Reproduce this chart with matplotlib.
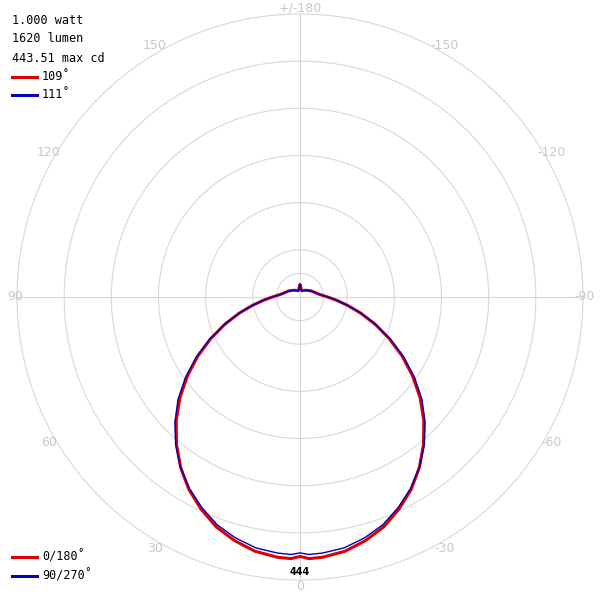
import numpy as np
import matplotlib
matplotlib.use('Agg')
from matplotlib import pyplot as plt

# intensity (cd) vs angle from nadir
angles = [0, 2, 5, 10, 15, 20, 25, 30, 35, 40, 45, 50, 55, 60, 65, 70, 75, 80, 85, 90,
          95, 100, 110, 120, 135, 150, 165, 170, 175, 178, 180]
red_cd = [440, 444, 443, 438, 428, 415, 397, 377, 353, 326, 297, 266, 233, 200, 167, 136,
          107, 82, 62, 47, 37, 31, 25, 21, 16, 13, 11, 12, 16, 19, 20]
blue_cd = [434, 437, 436, 432, 423, 411, 394, 375, 353, 328, 300, 270, 237, 203, 169, 137,
           108, 82, 62, 47, 37, 31, 25, 21, 16, 13, 11, 12, 16, 19, 20]
rings = [40, 80, 160, 240, 320, 400, 480]
angle_labels = [-150, -120, -90, -60, -30, 0, 30, 60, 90, 120, 150]
info = ['1.000 watt', '1620 lumen', '443.51 max cd']

PX = 283 / 480.0  # pixels per cd
CX, CY = 300, 297

fig = plt.figure(figsize=(6, 6), dpi=100)
ax = fig.add_axes([0, 0, 1, 1])
ax.set_xlim(-CX / PX, (600 - CX) / PX)
ax.set_ylim(-(600 - CY) / PX, CY / PX)
ax.set_aspect('equal')
ax.axis('off')

t = np.linspace(0, 2 * np.pi, 400)
for r in rings:
    ax.plot(r * np.cos(t), r * np.sin(t), color='#d8d8d8', lw=0.8, zorder=1)
ax.plot([-480, 480], [0, 0], color='#d8d8d8', lw=0.8, zorder=1)
ax.plot([0, 0], [-480, 480], color='#d8d8d8', lw=0.8, zorder=1)

def curve(vals, color, lw, z):
    a = np.radians(np.concatenate([-np.array(angles[::-1]), angles[1:]]))
    v = np.concatenate([vals[::-1], vals[1:]])
    ax.plot(v * np.sin(a), -v * np.cos(a), color=color, lw=lw, zorder=z)

curve(np.array(red_cd, float), '#dd0000', 2.2, 2)
curve(np.array(blue_cd, float), '#0000bb', 1.0, 3)

for a in angle_labels:
    ar = np.radians(a)
    lr = (285 if abs(a) == 90 else 290) / PX
    ax.text(-lr * np.sin(ar), -lr * np.cos(ar), str(a), color='#c8c8c8',
            fontsize=9, ha='center', va='center', zorder=4)
ax.text(0, 289 / PX, '+/-180', color='#c8c8c8', fontsize=9, ha='center', va='center')
ax.text(0, -(572 - CY) / PX, '444', fontsize=7, fontweight='bold', ha='center', va='center')

mono = 'DejaVu Sans Mono'
for i, s in enumerate(info):
    fig.text(12 / 600, 1 - (20 + 19 * i) / 600, s, family=mono, fontsize=8.5, va='center')

def legend_item(y, color, label):
    fig.add_artist(plt.Line2D([12 / 600, 37 / 600], [1 - y / 600] * 2, color=color, lw=2.2))
    fig.text(42 / 600, 1 - y / 600, label, family=mono, fontsize=8.5, va='center')

legend_item(77, '#dd0000', '109˚')
legend_item(95, '#0000bb', '111˚')
legend_item(557, '#dd0000', '0/180˚')
legend_item(576, '#0000bb', '90/270˚')

fig.savefig('out.png', dpi=100, facecolor='white')
